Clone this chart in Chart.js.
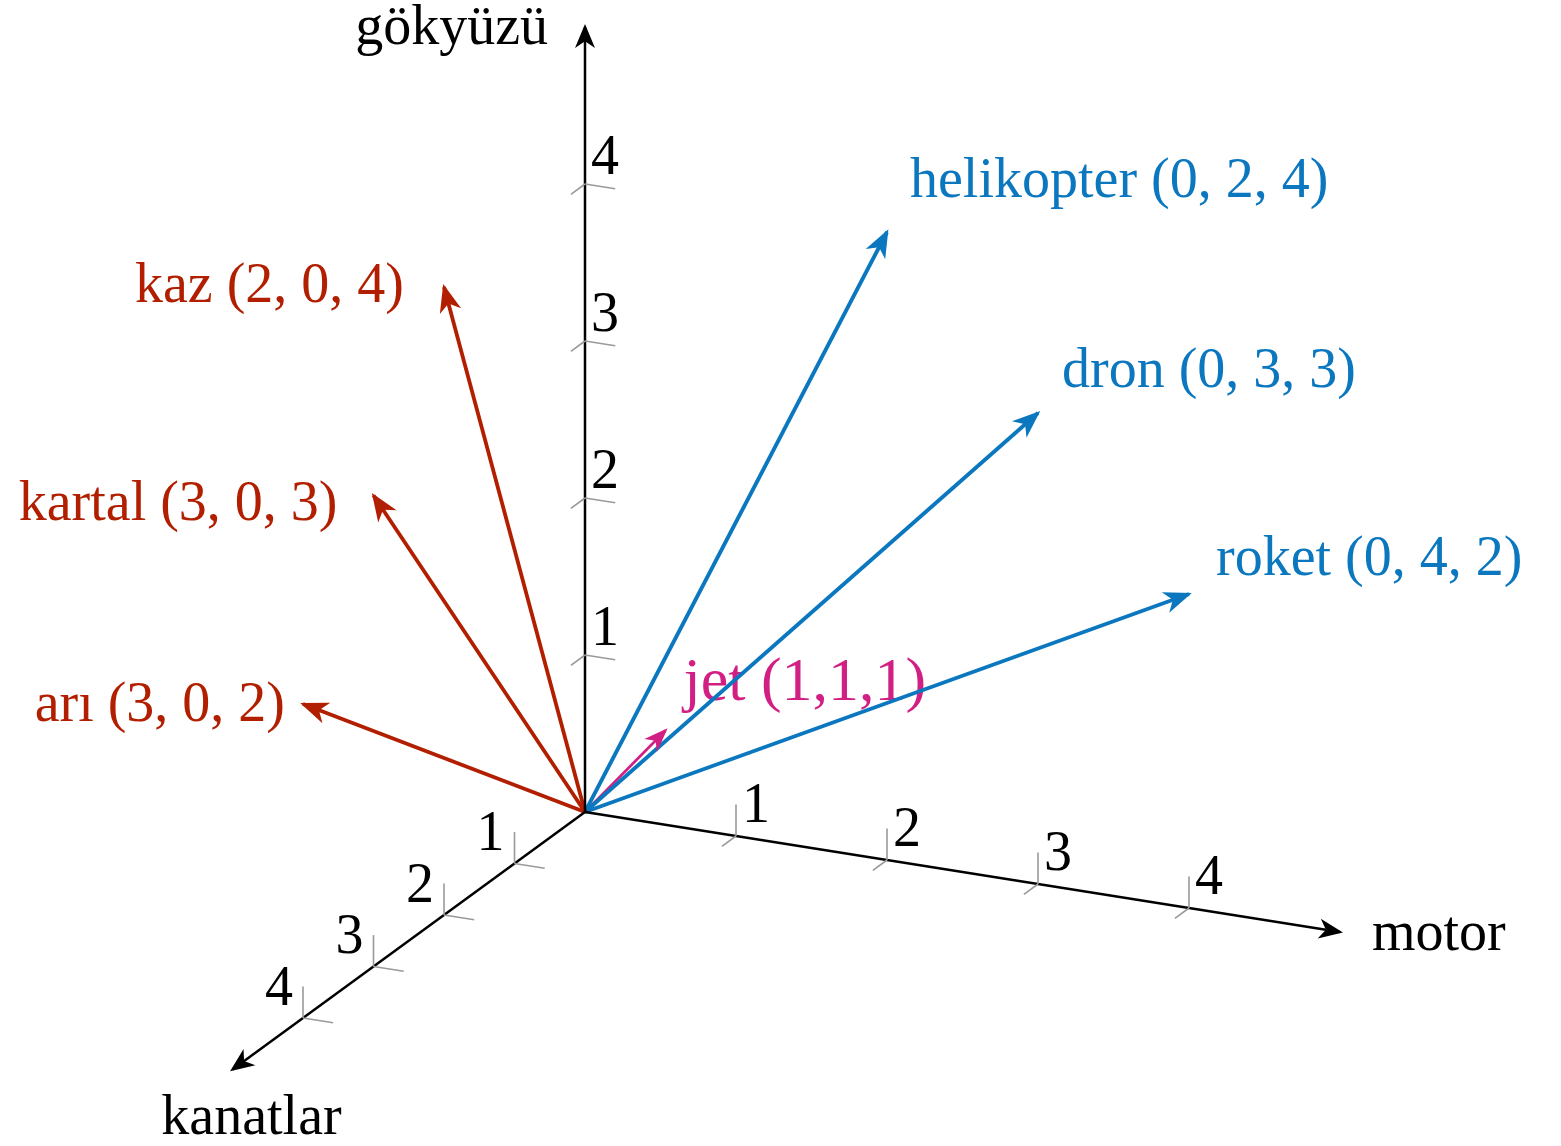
<!DOCTYPE html>
<html lang="tr">
<head>
<meta charset="UTF-8">
<title>Vektörler</title>
<script src="https://cdn.jsdelivr.net/npm/chart.js"></script>
<style>
    body { margin: 0; padding: 0; background: #fff; }
    #wrap { width: 1561px; height: 1146px; }
</style>
</head>
<body>
<div id="wrap"><canvas id="chart" width="1561" height="1146"></canvas></div>
<script>
// 3D coordinates are (kanatlar, motor, gökyüzü)
const axisNames = ["kanatlar", "motor", "gökyüzü"];
const axisLength = 5;
const tickValues = [1, 2, 3, 4];

const vectorNames = ["kaz", "kartal", "arı", "helikopter", "dron", "roket", "jet"];
const wingsValues = [2, 3, 4, 0, 0, 0, 1];   // arı is drawn at 4 on kanatlar in the picture
const motorValues = [0, 0, 0, 2, 3, 4, 1];
const skyValues   = [4, 3, 2, 4, 3, 2, 1];
const vectorTags  = ["(2, 0, 4)", "(3, 0, 3)", "(3, 0, 2)", "(0, 2, 4)", "(0, 3, 3)", "(0, 4, 2)", "(1,1,1)"];

// --- styling / layout (not data) ---
const RED = "#b21f00", BLUE = "#0a77bf", PINK = "#d21f84";
const vectorColors = [RED, RED, RED, BLUE, BLUE, BLUE, PINK];
const vectorWidths = [3.8, 3.8, 3.8, 3.8, 3.8, 3.8, 2.6];
const vectorFonts  = [56, 56, 56, 56, 56, 56, 62];
// label anchor offset from the tip in px: [dx, dy, align]
const labelOffsets = [[-40, 0, "right"], [-36, 10, "right"], [-18, 2, "right"],
                      [23, -50, "left"], [24, -41, "left"], [27, -34, "left"], [18, -47, "left"]];
const axisTitleOffsets = [[19, 50, "center"], [32, 3, "left"], [-37, 2, "right"]];
const tickLabelOffsets = [[-24, -28], [20, -29], [20, -25]];
const FONT = "'Liberation Serif', 'Times New Roman', serif";

// screen directions of one unit on each axis (y pointing up)
const units = [[-70.5, -51.5], [151, -24], [0, 157]];
function project(p) {
    let x = 0, y = 0;
    for (let i = 0; i < 3; i++) { x += p[i] * units[i][0]; y += p[i] * units[i][1]; }
    return { x: x, y: y };
}
function axisPoint(axis, v) { const p = [0, 0, 0]; p[axis] = v; return p; }
function add(a, b) { return [a[0] + b[0], a[1] + b[1], a[2] + b[2]]; }

const datasets = [];

// small tick crosses: lines along the two other axes
for (let a = 0; a < 3; a++) {
    tickValues.forEach(t => {
        for (let o = 0; o < 3; o++) {
            if (o === a) continue;
            const p = axisPoint(a, t);
            datasets.push({
                data: [project(p), project(add(p, axisPoint(o, 0.2)))],
                borderColor: "#9a9a9a", borderWidth: 1.6, showLine: true, pointRadius: 0
            });
        }
    });
}

// axes
for (let a = 0; a < 3; a++) {
    datasets.push({
        data: [project([0, 0, 0]), project(axisPoint(a, axisLength))],
        borderColor: "#000", borderWidth: 2.5, showLine: true, pointRadius: 0,
        arrow: { len: 24, half: 10 }
    });
}

// vectors
vectorNames.forEach((name, i) => {
    datasets.push({
        label: name,
        data: [project([0, 0, 0]), project([wingsValues[i], motorValues[i], skyValues[i]])],
        borderColor: vectorColors[i], borderWidth: vectorWidths[i], showLine: true, pointRadius: 0,
        arrow: i === 6 ? { len: 24, half: 9 } : { len: 28, half: 11 }
    });
});

function drawText(ctx, text, x, y, align, color, size) {
    ctx.save();
    ctx.font = size + "px " + FONT;
    ctx.fillStyle = color;
    ctx.textAlign = align;
    ctx.textBaseline = "middle";
    ctx.fillText(text, x, y);
    ctx.restore();
}

function tipPixel(chart, p) {
    const q = project(p);
    return { x: chart.scales.x.getPixelForValue(q.x), y: chart.scales.y.getPixelForValue(q.y) };
}

function drawVectorLabel(chart, i) {
    const tp = tipPixel(chart, [wingsValues[i], motorValues[i], skyValues[i]]);
    const off = labelOffsets[i];
    drawText(chart.ctx, vectorNames[i] + " " + vectorTags[i], tp.x + off[0], tp.y + off[1], off[2], vectorColors[i], vectorFonts[i]);
}

const arrowPlugin = {
    id: "arrows",
    beforeDatasetsDraw(chart) {
        // jet label sits under the blue lines
        drawVectorLabel(chart, 6);
    },
    afterDatasetsDraw(chart) {
        const ctx = chart.ctx;
        chart.data.datasets.forEach((ds, di) => {
            if (!ds.arrow) return;
            const pts = chart.getDatasetMeta(di).data;
            const a = pts[0], b = pts[pts.length - 1];
            const dx = b.x - a.x, dy = b.y - a.y, d = Math.hypot(dx, dy);
            const ux = dx / d, uy = dy / d;
            const tx = b.x + ux * 3, ty = b.y + uy * 3;
            const L = ds.arrow.len, H = ds.arrow.half;
            ctx.save();
            ctx.fillStyle = ds.borderColor;
            ctx.beginPath();
            ctx.moveTo(tx, ty);
            ctx.lineTo(tx - ux * L - uy * H, ty - uy * L + ux * H);
            ctx.lineTo(tx - ux * L * 0.72, ty - uy * L * 0.72);
            ctx.lineTo(tx - ux * L + uy * H, ty - uy * L - ux * H);
            ctx.closePath();
            ctx.fill();
            ctx.restore();
        });

        // vector labels
        vectorNames.forEach((name, i) => { if (i !== 6) drawVectorLabel(chart, i); });

        // axis titles and tick labels
        for (let a = 0; a < 3; a++) {
            const ep = tipPixel(chart, axisPoint(a, axisLength));
            const o = axisTitleOffsets[a];
            drawText(ctx, axisNames[a], ep.x + o[0], ep.y + o[1], o[2], "#000", 56);
            tickValues.forEach(t => {
                const p = tipPixel(chart, axisPoint(a, t));
                const to = tickLabelOffsets[a];
                drawText(ctx, String(t), p.x + to[0], p.y + to[1], "center", "#000", 56);
            });
        }
    }
};

new Chart(document.getElementById("chart"), {
    type: "scatter",
    data: { datasets: datasets },
    options: {
        responsive: false,
        animation: false,
        devicePixelRatio: 1,
        layout: { padding: 0 },
        plugins: { legend: { display: false }, tooltip: { enabled: false } },
        scales: {
            x: { type: "linear", min: -585, max: 976, display: false },
            y: { type: "linear", min: -334, max: 812, display: false }
        }
    },
    plugins: [arrowPlugin]
});
</script>
</body>
</html>
